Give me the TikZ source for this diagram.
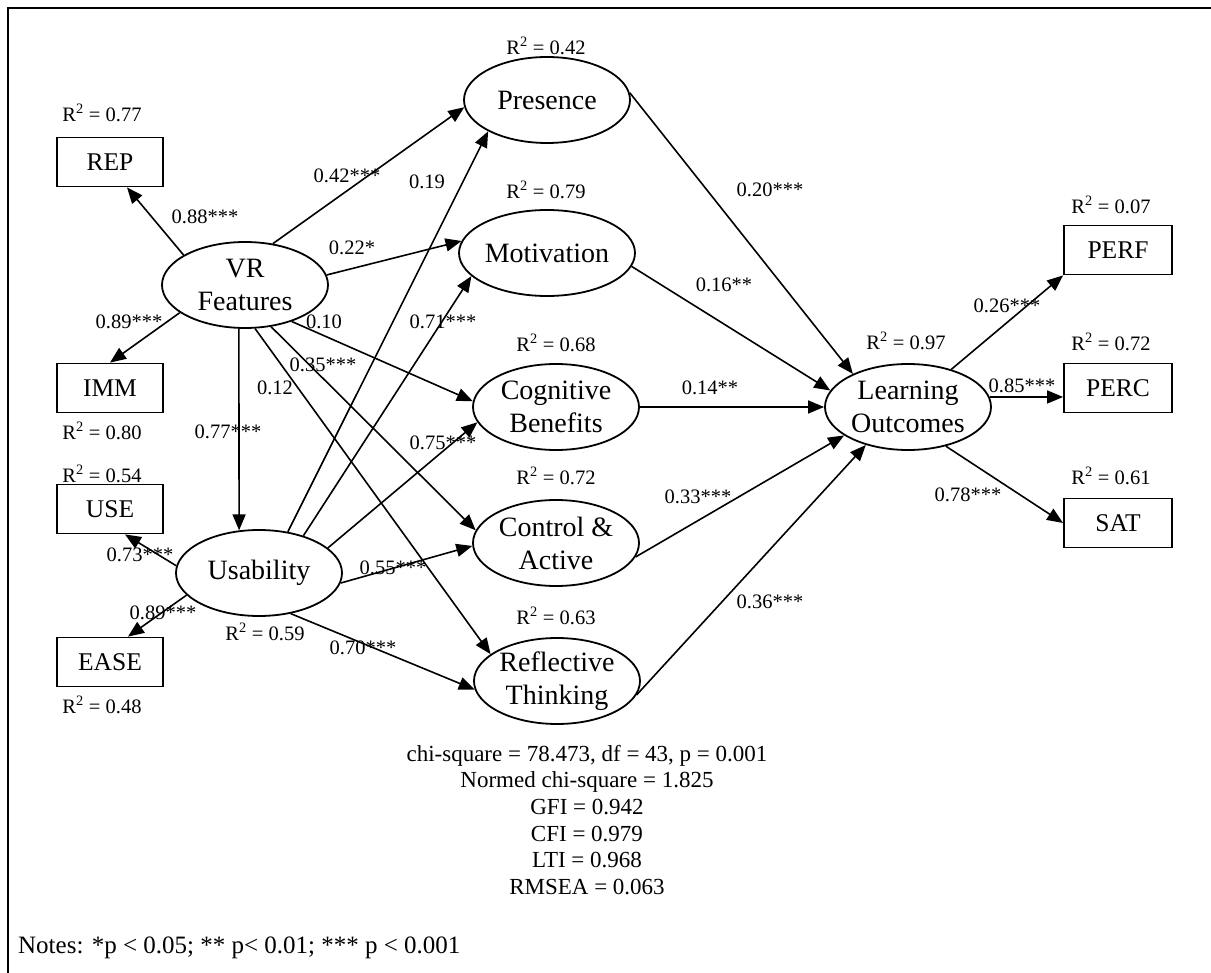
\documentclass[tikz,border=0pt]{standalone}
\usepackage{fontspec}
\setmainfont{Liberation Serif}
\usetikzlibrary{arrows.meta,shapes.geometric}
\begin{document}
\begin{tikzpicture}[x=1pt,y=-1pt,
  lat/.style={draw, line width=1.8pt, ellipse, minimum width=166pt, minimum height=86pt, inner sep=0pt, align=center, font=\fontsize{28}{33}\selectfont},
  obs/.style={draw, line width=1.8pt, rectangle, minimum width=106pt, minimum height=49pt, inner sep=0pt, font=\fontsize{25.5}{30}\selectfont},
  coef/.style={inner sep=0pt, font=\fontsize{20.5}{24}\selectfont},
  rsq/.style={inner sep=0pt, font=\fontsize{20.5}{24}\selectfont},
  conn/.style={line width=1.6pt, -{Triangle[length=16pt,width=13pt]}},
]
\useasboundingbox (0,0) rectangle (1211,973);
\draw[line width=2.2pt] (8,980) -- (8,8) -- (1215,8);

% latent variables
\node[lat] (VR) at (245,285) {VR\\Features};
\node[lat] (US) at (259,573) {Usability};
\node[lat] (PR) at (547,100) {Presence};
\node[lat] (MO) at (547,253) {Motivation};
\node[lat] (CB) at (556,407) {Cognitive\\Benefits};
\node[lat] (CA) at (556,543) {Control \&\\Active};
\node[lat] (RT) at (557,681) {Reflective\\Thinking};
\node[lat] (LO) at (908,407) {Learning\\Outcomes};

% observed variables
\node[obs] (REP) at (110,162) {REP};
\node[obs] (IMM) at (110,388) {IMM};
\node[obs] (USE) at (110,509) {USE};
\node[obs] (EASE) at (110,662) {EASE};
\node[obs, minimum width=108pt] (PERF) at (1118,250) {PERF};
\node[obs, minimum width=108pt] (PERC) at (1118,388) {PERC};
\node[obs, minimum width=108pt] (SAT) at (1118,523) {SAT};

% connectors
\draw[conn] (VR.154.6) -- ([xshift=17pt]REP.south);
\draw[conn] (VR.203.3) -- (IMM.north);
\draw[conn] (VR.56.3) -- (PR.185.4);
\draw[conn] (VR.7.5) -- (MO.172.5);
\draw[conn] (VR.322.7) -- (CB.176.6);
\draw[conn] (VR.302.7) -- (CA.171);
\draw[conn] (VR.283.4) -- (RT.158.2);
\draw[conn] (VR.262) -- (US.115);
\draw[conn] (US.175.8) -- ([xshift=15pt]USE.south);
\draw[conn] (US.197.9) -- ([xshift=18pt]EASE.north);
\draw[conn] (US.55) -- (PR.208);
\draw[conn] (US.40.8) -- (MO.197.9);
\draw[conn] (US.20.2) -- (CB.191.2);
\draw[conn] (US.353.1) -- (CA.182.8);
\draw[conn] (US.308) -- (RT.186.1);
\draw[conn] (PR.5.5) -- (LO.149.1);
\draw[conn] (MO.351.6) -- (LO.168.8);
\draw[conn] (CB.east) -- (LO.west);
\draw[conn] (CA.350.4) -- (LO.204.7);
\draw[conn] (RT.350.3) -- (LO.222.9);
\draw[conn] (LO.41.9) -- (PERF.south west);
\draw[conn] (LO.7.5) -- (LO.7.5 -| PERC.west);
\draw[conn] (LO.314.2) -- (SAT.west);

% R squared
\node[rsq] (r1) at (102,113) {R\textsuperscript{2} = 0.77};
\node[rsq] (r2) at (102,431) {R\textsuperscript{2} = 0.80};
\node[rsq] (r3) at (102,474) {R\textsuperscript{2} = 0.54};
\node[rsq] (r4) at (102,705) {R\textsuperscript{2} = 0.48};
\node[rsq] (r5) at (546,46) {R\textsuperscript{2} = 0.42};
\node[rsq] (r6) at (546,190) {R\textsuperscript{2} = 0.79};
\node[rsq] (r7) at (556,343) {R\textsuperscript{2} = 0.68};
\node[rsq] (r8) at (556,476) {R\textsuperscript{2} = 0.72};
\node[rsq] (r9) at (556,616) {R\textsuperscript{2} = 0.63};
\node[rsq] (r10) at (265,632) {R\textsuperscript{2} = 0.59};
\node[rsq] (r11) at (906,341) {R\textsuperscript{2} = 0.97};
\node[rsq] (r12) at (1111,205) {R\textsuperscript{2} = 0.07};
\node[rsq] (r13) at (1111,342) {R\textsuperscript{2} = 0.72};
\node[rsq] (r14) at (1111,476) {R\textsuperscript{2} = 0.61};

% coefficients
\node[coef] (c1) at (205,217) {0.88***};
\node[coef] (c2) at (129,322) {0.89***};
\node[coef] (c3) at (347,176) {0.42***};
\node[coef] (c4) at (427,182) {0.19};
\node[coef] (c5) at (352,248) {0.22*};
\node[coef] (c6) at (324,322) {0.10};
\node[coef] (c7) at (443,322) {0.71***};
\node[coef] (c8) at (323,365) {0.35***};
\node[coef] (c9) at (275,388) {0.12};
\node[coef] (c10) at (228,432) {0.77***};
\node[coef] (c11) at (443,443) {0.75***};
\node[coef] (c12) at (140,555) {0.73***};
\node[coef] (c13) at (393,568) {0.55***};
\node[coef] (c14) at (163,613) {0.89***};
\node[coef] (c15) at (363,648) {0.70***};
\node[coef] (c16) at (770,190) {0.20***};
\node[coef] (c17) at (724,285) {0.16**};
\node[coef] (c18) at (710,388) {0.14**};
\node[coef] (c19) at (698,497) {0.33***};
\node[coef] (c20) at (770,602) {0.36***};
\node[coef] (c21) at (1007,306) {0.26***};
\node[coef] (c22) at (1022,386) {0.85***};
\node[coef] (c23) at (968,495) {0.78***};

% fit statistics
\node[align=center, inner sep=0pt, font=\fontsize{23}{26.7}\selectfont] (fit) at (587,820)
  {chi-square = 78.473, df = 43, p = 0.001\\Normed chi-square = 1.825\\GFI = 0.942\\CFI = 0.979\\LTI = 0.968\\RMSEA = 0.063};

\node[anchor=base west, inner sep=0pt, font=\fontsize{25}{30}\selectfont] (notes) at (18,953)
  {Notes: *p < 0.05; ** p< 0.01; *** p < 0.001};
\end{tikzpicture}
\end{document}
